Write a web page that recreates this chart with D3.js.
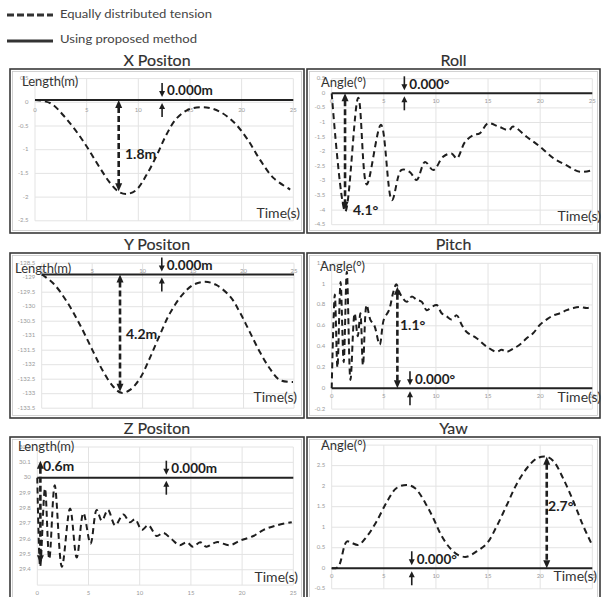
<!DOCTYPE html>
<html><head><meta charset="utf-8">
<script src="https://cdn.jsdelivr.net/npm/d3@7"></script>
<style>
html,body{margin:0;padding:0;background:#fff;}
svg{display:block;font-family:Lato,"Open Sans",sans-serif;}
</style></head><body>
<svg id="fig" width="601" height="597"></svg>
<script>
// ---------- data ----------
const timeTicks = [0, 5, 10, 15, 20, 25];

// X position (m)
const xPosTime   = [0, 1.5, 3.0, 4.7, 6.3, 7.3, 8.2, 9.0, 9.8, 10.8, 11.8, 12.7, 13.7, 15.0, 16.6, 17.9, 19.2, 20.5, 21.8, 23.1, 24.7];
const xPosDashed = [0.05, -0.02, -0.34, -0.83, -1.39, -1.71, -1.9, -1.93, -1.85, -1.53, -1.11, -0.69, -0.34, -0.14, -0.11, -0.2, -0.41, -0.76, -1.22, -1.6, -1.84];
const xPosTicks  = [-2.5, -2, -1.5, -1, -0.5, 0, 0.5];

// Roll (deg)
const rollTime   = [0, 1.3, 2.55, 3.36, 4.73, 5.78, 6.7, 7.5, 8.15, 8.95, 9.75, 10.7, 11.5, 12.0, 12.8, 13.6, 14.2, 15.0, 16.0, 17.0, 17.4, 18.7, 20.0, 21.3, 22.5, 23.8, 25];
const rollDashed = [0, -4.05, -0.15, -3.12, -1.08, -3.66, -2.62, -2.7, -2.97, -2.35, -2.63, -2.17, -2.06, -2.23, -1.66, -1.43, -1.37, -1.03, -1.14, -1.26, -1.14, -1.49, -1.83, -2.23, -2.46, -2.69, -2.63];
const rollTicks  = [-4.5, -4, -3.5, -3, -2.5, -2, -1.5, -1, -0.5, 0, 0.5];

// Y position (m)
const yPosTime   = [0, 1.16, 2.5, 3.8, 5.1, 6.1, 7.1, 7.9, 8.75, 9.74, 10.7, 11.7, 12.7, 13.9, 15.0, 16.2, 17.3, 18.7, 19.6, 20.6, 21.6, 22.6, 23.6, 24.9];
const yPosDashed = [-128.89, -129.2, -129.83, -130.63, -131.55, -132.24, -132.76, -132.97, -132.87, -132.47, -131.78, -130.98, -130.23, -129.6, -129.25, -129.14, -129.25, -129.66, -130.17, -130.86, -131.55, -132.13, -132.53, -132.6];
const yPosTicks  = [-133.5, -133, -132.5, -132, -131.5, -131, -130.5, -130, -129.5, -129, -128.5];

// Pitch (deg)
const pitchTime   = [0, 0.3, 0.55, 0.85, 1.15, 1.45, 1.8, 2.2, 2.5, 2.75, 3.0, 3.35, 3.7, 4.1, 4.6, 5.0, 5.5, 5.9, 6.2, 6.55, 7.19, 7.67, 8.15, 8.63, 9.11, 9.59, 10.07, 10.55, 11.03, 11.5, 11.99, 12.47, 12.95, 13.9, 14.87, 15.82, 16.3, 16.78, 17.42, 18.06, 18.7, 19.34, 19.98, 20.62, 21.26, 21.9, 22.54, 23.18, 23.82, 24.46, 25];
const pitchDashed = [0, 0.9, 0.2, 1.02, 0.25, 1.12, 0.08, 0.72, 0.5, 0.72, 0.22, 0.8, 0.66, 0.6, 0.42, 0.66, 0.75, 0.92, 1.0, 0.91, 0.83, 0.88, 0.85, 0.83, 0.75, 0.78, 0.8, 0.72, 0.69, 0.66, 0.7, 0.61, 0.54, 0.48, 0.4, 0.35, 0.37, 0.35, 0.38, 0.42, 0.48, 0.53, 0.61, 0.66, 0.7, 0.72, 0.75, 0.77, 0.78, 0.77, 0.78];
const pitchTicks  = [-0.2, 0, 0.2, 0.4, 0.6, 0.8, 1, 1.2];

// Z position (m)
const zPosTime   = [0, 0.28, 0.75, 1.17, 1.7, 2.4, 3.2, 3.85, 4.5, 5.2, 5.8, 6.3, 6.9, 7.6, 8.4, 9.05, 9.55, 10.2, 10.85, 11.65, 12.3, 13.1, 13.9, 14.6, 15.2, 15.9, 16.5, 17.5, 18.8, 19.8, 21.1, 22.1, 23.4, 24.85];
const zPosDashed = [30.0, 29.42, 29.93, 29.47, 29.95, 29.42, 29.8, 29.48, 29.77, 29.57, 29.79, 29.72, 29.79, 29.69, 29.76, 29.71, 29.73, 29.66, 29.69, 29.62, 29.64, 29.6, 29.56, 29.58, 29.55, 29.58, 29.55, 29.58, 29.56, 29.59, 29.62, 29.66, 29.69, 29.71];
const zPosTicks  = [29.4, 29.5, 29.6, 29.7, 29.8, 29.9, 30, 30.1, 30.2];

// Yaw (deg)
const yawTime   = [0, 0.6, 1.44, 1.9, 2.56, 3.36, 4.3, 5.3, 6.2, 7.2, 8.0, 9.0, 9.75, 10.5, 11.35, 12.15, 12.95, 13.9, 14.9, 15.8, 16.8, 17.7, 18.7, 19.7, 20.6, 21.3, 22.2, 23.2, 24.1, 24.9];
const yawDashed = [0, 0.03, 0.65, 0.62, 0.57, 0.77, 1.14, 1.62, 1.95, 2.03, 1.95, 1.58, 1.22, 0.81, 0.49, 0.32, 0.28, 0.41, 0.61, 1.01, 1.54, 2.03, 2.43, 2.68, 2.72, 2.6, 2.19, 1.62, 1.05, 0.61];
const yawTicks  = [-0.5, 0, 0.5, 1, 1.5, 2, 2.5, 3];

// Panel order: X, Roll, Y, Pitch, Z, Yaw
const panelTitles    = ["X Positon", "Roll", "Y Positon", "Pitch", "Z Positon", "Yaw"];
const axisNames      = ["Length(m)", "Angle(°)", "Length(m)", "Angle(°)", "Length(m)", "Angle(°)"];
const proposedLevel  = [0.05, 0, -128.89, 0, 30, 0];
const deviationTime  = [8.1, 1.28, 7.76, 6.3, 0.3, 20.63];
const deviationStart = [0.05, 0, -128.89, 0, 30.11, 0];
const deviationText  = ["1.8m", "4.1°", "4.2m", "1.1°", "0.6m", "2.7°"];
const residualTime   = [12.3, 6.97, 11.9, 7.51, 12.6, 7.68];
const residualText   = ["0.000m", "0.000°", "0.000m", "0.000°", "0.000m", "0.000°"];
const legendText     = ["Equally distributed tension", "Using proposed method"];

const seriesTime  = [xPosTime, rollTime, yPosTime, pitchTime, zPosTime, yawTime];
const seriesValue = [xPosDashed, rollDashed, yPosDashed, pitchDashed, zPosDashed, yawDashed];
const seriesTicks = [xPosTicks, rollTicks, yPosTicks, pitchTicks, zPosTicks, yawTicks];

// ---------- layout ----------
const layout = [
  {box:[10,69,304,233],  px:[35,293.3],    py:[220.8,78.6],  dom:[-2.5,0.5],      name:[22,83],  time:[300,214], dev:[8.71,-1.11],   tickAxis:0},
  {box:[307,69,600,233], px:[331.7,592.3], py:[224.7,78.7],  dom:[-4.5,0.5],      name:[321,84], time:[601,217], dev:[2.04,-4.06],   tickAxis:0},
  {box:[10,253,304,418], px:[41.7,294],    py:[408.2,263.2], dom:[-133.5,-128.5], name:[15,270], time:[297,398], dev:[8.35,-130.98], tickAxis:-128.5},
  {box:[307,253,600,418],px:[331.7,592.3], py:[409.1,263.3], dom:[-0.2,1.2],      name:[320,268],time:[601,398], dev:[6.55,0.59],    tickAxis:0},
  {box:[10,437,304,600], px:[37.3,293.3],  py:[585.1,447.0], dom:[29.3,30.2],     name:[18,448], time:[298,578], dev:[0.56,30.07],   tickAxis:29.3},
  {box:[307,437,600,600],px:[331.7,592.3], py:[588.8,445.1], dom:[-0.5,3],        name:[321,447],time:[597,577], dev:[20.76,1.49],   tickAxis:0}
];

const svg = d3.select("#fig");
const ink = "#1e1e1e";

// ---------- legend ----------
const legend = svg.append("g");
legend.append("line").attr("x1",7).attr("x2",53).attr("y1",15).attr("y2",15)
  .attr("stroke","#333").attr("stroke-width",3).attr("stroke-dasharray","7,3");
legend.append("line").attr("x1",7).attr("x2",53).attr("y1",41).attr("y2",41)
  .attr("stroke","#333").attr("stroke-width",3);
legend.selectAll("text").data(legendText).join("text")
  .attr("x",60).attr("y",(d,i)=> i ? 40 : 15)
  .attr("dominant-baseline","middle")
  .attr("font-size",12).attr("fill","#444")
  .attr("textLength",(d,i)=> i ? 137 : 152)
  .attr("lengthAdjust","spacingAndGlyphs")
  .text(d=>d);

// ---------- helpers ----------
function head(g, x, y, dir, len, wid){
  // dir = 1 points downward, -1 points upward
  g.append("path")
    .attr("d", `M${x},${y} L${x-wid/2},${y-dir*len} L${x+wid/2},${y-dir*len} Z`)
    .attr("fill", ink);
}
function valueAt(ts, vs, t){
  for (let i=1;i<ts.length;i++){
    if (t <= ts[i]){
      const f = (t-ts[i-1])/(ts[i]-ts[i-1]);
      return vs[i-1] + f*(vs[i]-vs[i-1]);
    }
  }
  return vs[vs.length-1];
}

// ---------- panels ----------
layout.forEach((L, i) => {
  const g = svg.append("g");
  const [bx0, by0, bx1, by1] = L.box;
  const x = d3.scaleLinear().domain([0,25]).range(L.px);
  const y = d3.scaleLinear().domain(L.dom).range(L.py);
  const ticks = seriesTicks[i];

  // title above the cell
  g.append("text").attr("x",(bx0+bx1)/2).attr("y",by0-7)
    .attr("text-anchor","middle").attr("dominant-baseline","middle")
    .attr("font-size",16).attr("fill","#2f2f2f").attr("stroke","#2f2f2f").attr("stroke-width",0.15)
    .text(panelTitles[i]);

  // cell frame
  g.append("rect").attr("x",bx0).attr("y",by0).attr("width",bx1-bx0).attr("height",by1-by0)
    .attr("fill","none").attr("stroke","#3a3a3a").attr("stroke-width",1.6);
  g.append("rect").attr("x",bx0+2.5).attr("y",by0+2.5).attr("width",bx1-bx0-5).attr("height",by1-by0-5)
    .attr("fill","none").attr("stroke","#c8c8c8").attr("stroke-width",0.8);

  // gridlines
  g.append("g").selectAll("line").data(d3.range(L.dom[0], L.dom[1]+1e-9, ticks[1]-ticks[0])).join("line")
    .attr("x1",L.px[0]).attr("x2",L.px[1]).attr("y1",d=>y(d)).attr("y2",d=>y(d))
    .attr("stroke","#e3e3e3").attr("stroke-width",1);
  g.append("g").selectAll("line").data(timeTicks).join("line")
    .attr("x1",d=>x(d)).attr("x2",d=>x(d)).attr("y1",L.py[0]).attr("y2",L.py[1])
    .attr("stroke","#e3e3e3").attr("stroke-width",1);

  // tick labels
  g.append("g").selectAll("text").data(ticks).join("text")
    .attr("x",L.px[0]-6.5).attr("y",d=>y(d))
    .attr("text-anchor","end").attr("dominant-baseline","middle")
    .attr("font-size",6).attr("fill","#9a9a9a").text(d=>d);
  g.append("g").selectAll("text").data(timeTicks).join("text")
    .attr("x",d=>x(d)).attr("y",y(L.tickAxis)+8)
    .attr("text-anchor","middle").attr("dominant-baseline","middle")
    .attr("font-size",6).attr("fill","#9a9a9a").text(d=>d);

  // proposed method: constant level
  g.append("line").attr("x1",x(0)).attr("x2",x(25))
    .attr("y1",y(proposedLevel[i])).attr("y2",y(proposedLevel[i]))
    .attr("stroke","#222").attr("stroke-width",2);

  // equally distributed tension
  const pts = seriesTime[i].map((t,k)=>[t, seriesValue[i][k]]);
  g.append("path").datum(pts)
    .attr("d", d3.line().x(d=>x(d[0])).y(d=>y(d[1])).curve(d3.curveCatmullRom.alpha(0.5)))
    .attr("fill","none").attr("stroke",ink).attr("stroke-width",2)
    .attr("stroke-dasharray","6,4");

  // deviation arrow (dashed, double-headed)
  const ax = x(deviationTime[i]);
  const v0 = deviationStart[i];
  const v1 = valueAt(seriesTime[i], seriesValue[i], deviationTime[i]);
  const ya = y(v0), yb = y(v1);
  const top = Math.min(ya,yb), bot = Math.max(ya,yb);
  g.append("line").attr("x1",ax).attr("x2",ax).attr("y1",top+7).attr("y2",bot-7)
    .attr("stroke",ink).attr("stroke-width",2.6).attr("stroke-dasharray","6,3");
  head(g, ax, top, -1, 8, 7);
  head(g, ax, bot, 1, 8, 7);
  g.append("text").attr("x",x(L.dev[0])).attr("y",y(L.dev[1]))
    .attr("dominant-baseline","middle").attr("font-size",14).attr("font-weight",700)
    .attr("fill",ink).text(deviationText[i]);

  // residual arrows pointing at the proposed-method line
  const rx = x(residualTime[i]);
  const ly = y(proposedLevel[i]);
  g.append("line").attr("x1",rx).attr("x2",rx).attr("y1",ly-17).attr("y2",ly-8)
    .attr("stroke",ink).attr("stroke-width",1.6);
  head(g, rx, ly-3, 1, 6, 6);
  g.append("line").attr("x1",rx).attr("x2",rx).attr("y1",ly+8).attr("y2",ly+17)
    .attr("stroke",ink).attr("stroke-width",1.6);
  head(g, rx, ly+3, -1, 6, 6);
  g.append("text").attr("x",rx+5).attr("y",ly-8)
    .attr("dominant-baseline","middle").attr("font-size",13.5).attr("font-weight",700)
    .attr("fill",ink).text(residualText[i]);

  // axis names
  g.append("text").attr("x",L.name[0]).attr("y",L.name[1])
    .attr("dominant-baseline","middle").attr("font-size",13).attr("fill","#333")
    .text(axisNames[i]);
  g.append("text").attr("x",L.time[0]).attr("y",L.time[1])
    .attr("text-anchor","end").attr("dominant-baseline","middle")
    .attr("font-size",14).attr("fill","#333").text("Time(s)");
});
</script>
</body></html>
